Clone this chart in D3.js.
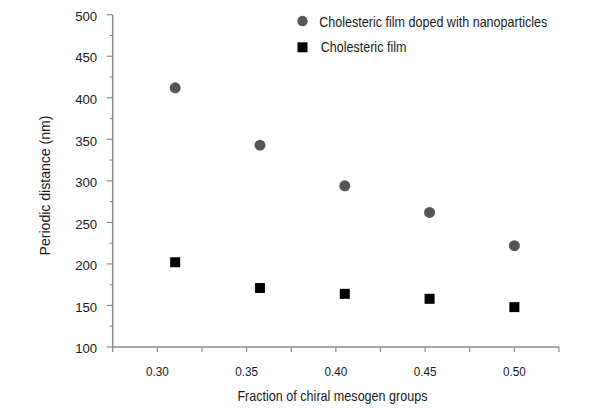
<!DOCTYPE html>
<html><head><meta charset="utf-8">
<script src="https://cdn.jsdelivr.net/npm/d3@7"></script>
<style>
body{margin:0;background:#fff;}
text{font-family:"Liberation Sans",Arial,sans-serif;fill:#1a1a1a;}
</style></head>
<body><svg id="c" width="600" height="409"></svg>
<script>
const fractions = [0.31, 0.3575, 0.405, 0.4525, 0.50];
const dopedValues = [412, 343, 294, 262, 222];
const filmValues = [202, 171, 164, 158, 148];
const seriesNames = ["Cholesteric film doped with nanoparticles", "Cholesteric film"];
const xTickLabels = [0.30, 0.35, 0.40, 0.45, 0.50];
const yTickLabels = [100, 150, 200, 250, 300, 350, 400, 450, 500];

const svg = d3.select("#c");
const x = d3.scaleLinear().domain([0.275, 0.525]).range([112.7, 559]);
const y = d3.scaleLinear().domain([100, 500]).range([347, 14.7]);
const axisColor = "#8a8a8a";

function squeeze(sel, f) {
  sel.each(function() {
    const w = this.getComputedTextLength();
    d3.select(this).attr("textLength", w * f).attr("lengthAdjust", "spacingAndGlyphs");
  });
}

// Y axis
const yMinor = d3.range(100, 501, 25);
const gy = svg.append("g").attr("transform", `translate(${x.range()[0]},0)`);
gy.append("line").attr("x1",0).attr("x2",0).attr("y1",y(500)).attr("y2",y(100)).attr("stroke",axisColor).attr("stroke-width",1.5);
gy.selectAll("line.t").data(yMinor).enter().append("line")
  .attr("x1", d => yTickLabels.includes(d) ? -6 : -3).attr("x2", 0)
  .attr("y1", d => y(d)).attr("y2", d => y(d)).attr("stroke", axisColor).attr("stroke-width",1.2);
gy.selectAll("text").data(yTickLabels).enter().append("text")
  .attr("x", -15.5).attr("y", d => y(d) + 1.5).attr("dy","0.36em").attr("text-anchor","end")
  .attr("font-size", 13.2).text(d => d);

// X axis
const xMinor = d3.range(0, 11).map(i => 0.275 + i*0.025);
const gx = svg.append("g").attr("transform", `translate(0,${y.range()[0]})`);
gx.append("line").attr("x1",x(0.275)).attr("x2",x(0.525)).attr("y1",0).attr("y2",0).attr("stroke",axisColor).attr("stroke-width",1.5);
gx.selectAll("line.t").data(xMinor).enter().append("line")
  .attr("x1", d => x(d)).attr("x2", d => x(d)).attr("y1",0).attr("y2",5)
  .attr("stroke", axisColor).attr("stroke-width",1.2);
gx.selectAll("text").data(xTickLabels).enter().append("text")
  .attr("x", d => x(d)).attr("y", 28.8).attr("text-anchor","middle")
  .attr("font-size", 12.5).text(d => d3.format(".2f")(d))
  .call(squeeze, 0.94);

// axis titles
svg.append("text").attr("x", 332.5).attr("y", 400.7).attr("text-anchor","middle").attr("font-size",14.8)
  .text("Fraction of chiral mesogen groups").call(squeeze, 0.85);
svg.append("text").attr("transform","translate(50,185.5) rotate(-90)").attr("text-anchor","middle").attr("font-size",14.5)
  .text("Periodic distance (nm)").call(squeeze, 0.97);

// points
svg.selectAll("circle.d").data(fractions).enter().append("circle")
  .attr("cx", (d) => x(d)).attr("cy", (d,i) => y(dopedValues[i])).attr("r", 5.5).attr("fill", "#555555");
const sq = 10;
svg.selectAll("rect.f").data(fractions).enter().append("rect")
  .attr("x", d => x(d) - sq/2).attr("y", (d,i) => y(filmValues[i]) - sq/2)
  .attr("width", sq).attr("height", sq).attr("fill", "#000");

// legend
svg.append("circle").attr("cx", 302.5).attr("cy", 21).attr("r", 5.2).attr("fill","#555555");
svg.append("text").attr("x", 319.3).attr("y", 27).attr("font-size",14.5).text(seriesNames[0]).call(squeeze, 0.865);
svg.append("rect").attr("x", 302.5 - sq/2).attr("y", 47.3 - sq/2).attr("width", sq).attr("height", sq).attr("fill","#000");
svg.append("text").attr("x", 320.7).attr("y", 51.7).attr("font-size",14.5).text(seriesNames[1]).call(squeeze, 0.865);
</script></body></html>
